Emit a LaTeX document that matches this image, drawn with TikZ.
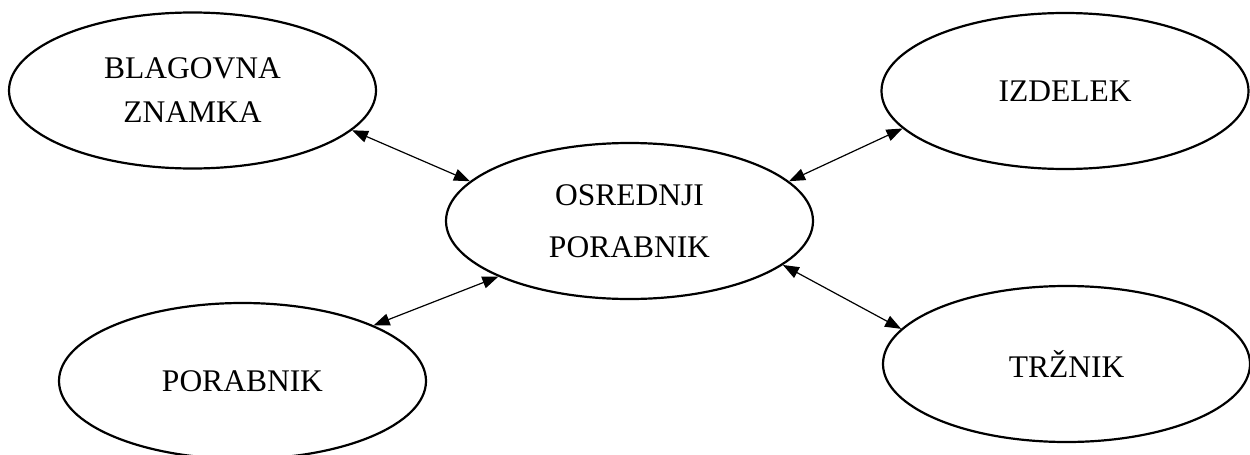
\documentclass[tikz,border=0pt]{standalone}
\usepackage{fontspec}
\setmainfont{Liberation Serif}
\usetikzlibrary{shapes.geometric,arrows.meta}
\begin{document}
\begin{tikzpicture}[x=1pt,y=-1pt,
  bubble/.style={draw=black, line width=2.2pt, ellipse, minimum width=367pt, minimum height=156pt,
    inner sep=0pt, align=center, font=\fontsize{31.5}{44}\selectfont},
  tip/.style={Triangle[length=16pt,width=12pt]},
  link/.style={line width=1.2pt, {Triangle[length=16pt,width=12pt]}-{Triangle[length=16pt,width=12pt]}}]
\useasboundingbox (0,0) rectangle (1250,455);
\node[bubble] (bz) at (192.5,90.5) {BLAGOVNA\\ZNAMKA};
\node[bubble] (iz) at (1065,91) {IZDELEK};
\node[bubble, font=\fontsize{31.5}{52}\selectfont] (op) at (629.5,221) {OSREDNJI\\PORABNIK};
\node[bubble] (po) at (242.5,381) {PORABNIK};
\node[bubble] (tr) at (1066.5,364) {TRŽNIK};
\draw[link] (bz.-14.9) -- (op.166.1);
\draw[link] (op.14.9) -- (iz.193.3);
\draw[link] (po.23.4) -- (op.203);
\draw[link] (op.-16.7) -- (tr.168.3);
\end{tikzpicture}
\end{document}
